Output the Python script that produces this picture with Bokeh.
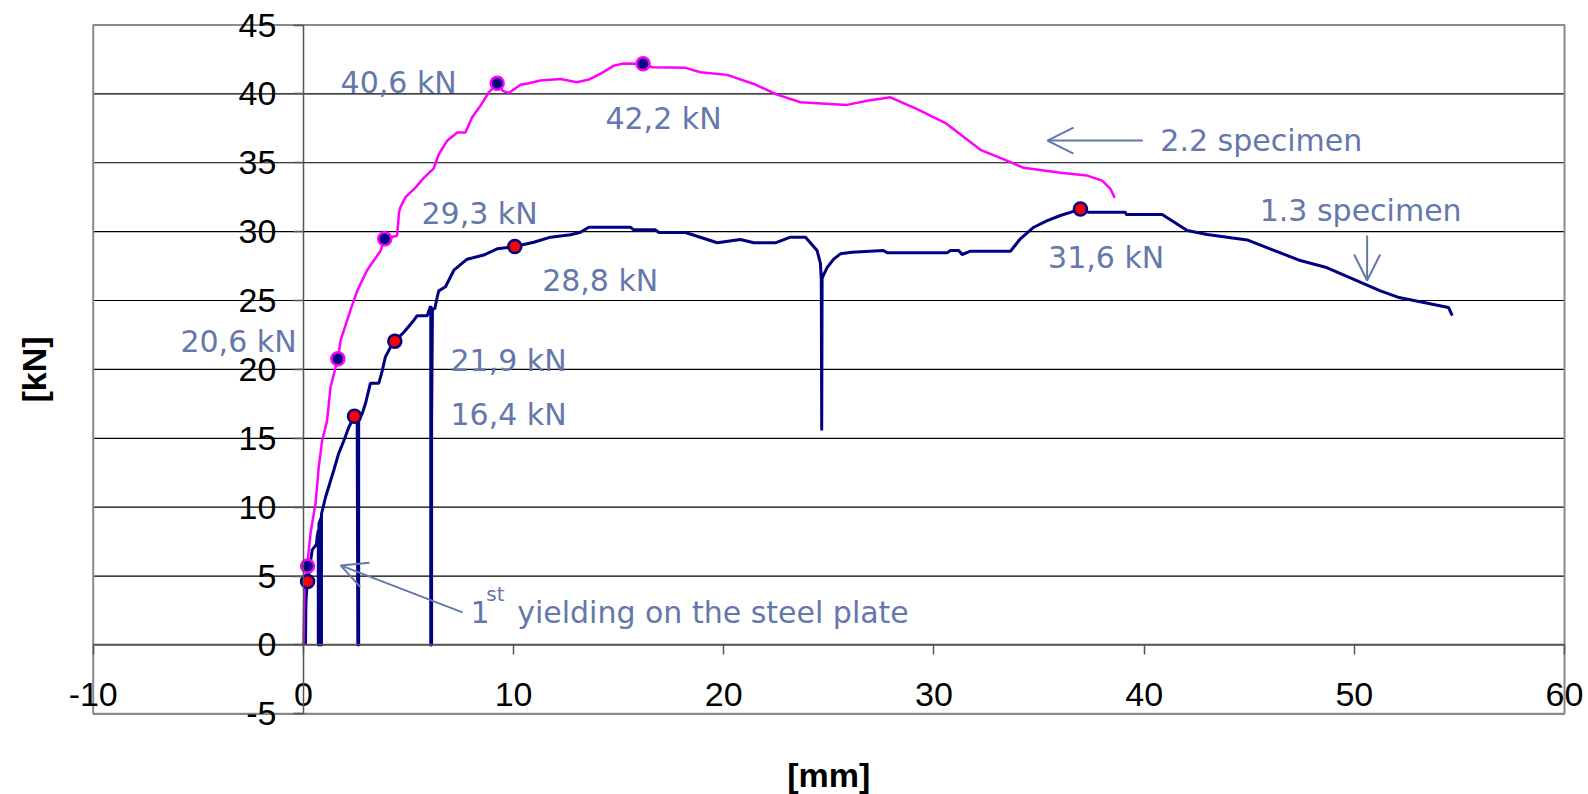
from bokeh.plotting import figure
from bokeh.models import (Range1d, FixedTicker, Label, LabelSet, ColumnDataSource,
                          Arrow, OpenHead)
from bokeh.core.properties import value
from bokeh.embed import file_html
from bokeh.resources import INLINE

# ---- data ----
x_ticks = [-10, 0, 10, 20, 30, 40, 50, 60]
y_ticks = [-5, 0, 5, 10, 15, 20, 25, 30, 35, 40, 45]

# 2.2 specimen (magenta)
mag_x = [0.00, 0.05, 0.18, 0.34, 0.58, 0.73, 0.89, 1.13, 1.29, 1.64, 1.77, 2.24, 2.56, 3.03,
         3.67, 3.87, 4.46, 4.55, 4.62, 4.86, 5.33, 5.73, 6.20, 6.44, 6.84, 7.32, 7.71, 8.03,
         8.43, 8.82, 9.22, 9.50, 9.77, 10.33, 10.72, 11.28, 12.23, 13.02, 13.58, 14.13, 14.77,
         15.24, 16.16, 16.59, 18.18, 18.89, 20.16, 21.43, 22.54, 23.65, 25.87, 26.82, 27.93,
         29.20, 30.55, 32.21, 33.24, 34.27, 36.02, 37.29, 38.00, 38.40, 38.60]
mag_y = [0.00, 4.20, 5.77, 8.10, 10.30, 12.90, 14.80, 16.30, 18.70, 20.77, 22.10, 24.30, 25.70,
         27.20, 28.60, 29.48, 29.70, 31.40, 31.80, 32.50, 33.20, 33.90, 34.60, 35.60, 36.60,
         37.20, 37.20, 38.30, 39.15, 40.10, 40.77, 40.20, 40.07, 40.67, 40.77, 40.97, 41.08,
         40.84, 41.04, 41.45, 42.05, 42.20, 42.18, 41.93, 41.89, 41.57, 41.38, 40.72, 39.95,
         39.39, 39.20, 39.50, 39.75, 38.90, 37.88, 35.94, 35.30, 34.63, 34.27, 34.07, 33.70,
         33.10, 32.45]

# 1.3 specimen (navy)
nav_x = [0.10, 0.12, 0.18, 0.28, 0.42, 0.62, 0.66, 0.71, 0.71, 0.74, 0.74, 0.83, 0.83, 0.86,
         0.86, 1.05, 1.29, 1.45, 1.68, 1.92, 2.16, 2.43, 2.56, 2.59, 2.63, 2.63, 2.80, 2.95,
         3.19, 3.59, 3.75, 3.90, 4.14, 4.35, 4.78, 5.25, 5.41, 5.89, 6.03, 6.06, 6.06, 6.10,
         6.10, 6.14, 6.25, 6.36, 6.44, 6.76, 7.16, 7.79, 8.58, 9.22, 10.06, 10.96, 11.76,
         12.71, 13.18, 13.58, 15.56, 15.72, 16.75, 16.91, 18.18, 19.69, 20.79, 21.43, 22.46,
         23.17, 23.89, 24.44, 24.60, 24.64, 24.66, 24.68, 24.73, 24.92, 25.23, 25.55, 26.10,
         27.60, 27.77, 30.63, 30.78, 31.18, 31.34, 31.74, 33.64, 34.11, 34.75, 35.39, 36.02,
         36.49, 36.97, 37.36, 39.11, 39.15, 40.86, 42.05, 43.00, 44.90, 47.43, 48.63, 51.24,
         52.07, 54.48, 54.66]
nav_y = [0.00, 3.00, 4.60, 5.40, 6.90, 7.30, 7.90, 8.30, 0.00, 0.00, 8.80, 9.20, 0.00, 0.00,
         9.50, 10.70, 11.90, 12.70, 13.90, 14.80, 15.80, 16.60, 16.40, 0.00, 0.00, 16.30, 16.80,
         17.50, 19.00, 19.00, 19.90, 20.90, 21.60, 22.05, 22.70, 23.55, 23.90, 23.90, 24.50,
         24.60, 0.00, 0.00, 16.20, 24.40, 24.40, 25.20, 25.70, 26.00, 27.20, 28.00, 28.30,
         28.75, 28.92, 29.23, 29.60, 29.77, 29.96, 30.32, 30.32, 30.13, 30.13, 29.94, 29.94,
         29.19, 29.43, 29.19, 29.19, 29.60, 29.60, 28.63, 27.70, 26.50, 15.57, 26.60, 26.80,
         27.40, 28.00, 28.39, 28.50, 28.63, 28.46, 28.46, 28.63, 28.63, 28.34, 28.58, 28.58,
         29.48, 30.32, 30.80, 31.17, 31.40, 31.65, 31.40, 31.40, 31.24, 31.24, 30.08, 29.79,
         29.40, 27.90, 27.42, 25.70, 25.24, 24.50, 23.90]

# marked points
mag_mx = [0.20, 1.64, 3.87, 9.22, 16.16]
mag_my = [5.72, 20.77, 29.48, 40.77, 42.18]
nav_mx = [0.20, 2.43, 4.35, 10.06, 36.97]
nav_my = [4.61, 16.60, 22.05, 28.92, 31.65]

# annotation texts
ann_text = ["40,6 kN", "42,2 kN", "29,3 kN", "28,8 kN", "31,6 kN", "20,6 kN", "21,9 kN",
            "16,4 kN", "2.2 specimen", "1.3 specimen"]
ann_x = [1.77, 14.37, 5.62, 11.36, 35.43, -5.85, 7.0, 7.0, 40.77, 45.5]
ann_y = [40.09, 37.48, 30.59, 25.67, 27.34, 21.23, 19.92, 16.0, 35.88, 30.8]

TXT = "#6478AC"
NAVY = "#000080"
MAG = "#FF00FF"

W, H = 1588, 794
# plot-area (x -10..60, y -5..45) placed at pixels 92.7..1564 / 24.5..713.3 of the canvas
sx = (1564.0 - 92.7) / (x_ticks[-1] - x_ticks[0])
sy = (713.3 - 24.5) / (y_ticks[-1] - y_ticks[0])
xr = Range1d(x_ticks[0] - 92.7 / sx, x_ticks[-1] + (W - 1564.0) / sx)
yr = Range1d(y_ticks[0] - (H - 713.3) / sy, y_ticks[-1] + 24.5 / sy)

p = figure(width=W, height=H, x_range=xr, y_range=yr,
           output_backend="svg", toolbar_location=None,
           min_border_left=0, min_border_right=0, min_border_top=0, min_border_bottom=0)

p.outline_line_color = None
p.background_fill_color = "white"
p.border_fill_color = "white"
p.xgrid.visible = False
p.ygrid.visible = False

# horizontal gridlines across the plot area
p.segment(x0=[x_ticks[0]] * len(y_ticks), x1=[x_ticks[-1]] * len(y_ticks),
          y0=y_ticks, y1=y_ticks, line_color="black", line_width=1.2)
# plot-area border
p.quad(left=[x_ticks[0]], right=[x_ticks[-1]], bottom=[y_ticks[0]], top=[y_ticks[-1]],
       fill_color=None, line_color="#8a8a8a", line_width=2)

for ax, ticks in ((p.xaxis, x_ticks), (p.yaxis, y_ticks)):
    ax.ticker = FixedTicker(ticks=ticks)
    ax.major_label_overrides = {t: str(t) for t in ticks}
    ax.fixed_location = 0
    ax.bounds = (ticks[0], ticks[-1])
    ax.axis_line_color = "#555555"
    ax.axis_line_width = 1.5
    ax.major_tick_line_color = "#555555"
    ax.major_tick_line_width = 1.5
    ax.major_tick_out = 10
    ax.major_tick_in = 0
    ax.minor_tick_line_color = None
    ax.major_label_text_font = "Liberation Sans"
    ax.major_label_text_font_size = "34px"
    ax.major_label_text_color = "black"
p.xaxis.major_label_standoff = 28
p.yaxis.major_label_standoff = 17

# curves
p.line(nav_x, nav_y, line_color=NAVY, line_width=3)
p.line(mag_x, mag_y, line_color=MAG, line_width=2.5)
p.scatter(mag_mx, mag_my, size=13, fill_color=NAVY, line_color=MAG, line_width=2.5)
p.scatter(nav_mx, nav_my, size=13, fill_color="red", line_color=NAVY, line_width=2.5)

# annotation labels
src = ColumnDataSource(dict(x=ann_x, y=ann_y, t=ann_text))
p.add_layout(LabelSet(x="x", y="y", text="t", source=src, text_font=value("DejaVu Sans"),
                      text_font_size=value("30px"), text_color=value(TXT),
                      text_baseline=value("alphabetic"), text_align=value("left")))

p.add_layout(Label(x=7.95, y=1.78, y_offset=8, text="1", text_font="DejaVu Sans",
                   text_font_size="30px", text_color=TXT, text_baseline="alphabetic"))
p.add_layout(Label(x=8.70, y=3.47, y_offset=3, text="st", text_font="DejaVu Sans",
                   text_font_size="20px", text_color=TXT, text_baseline="alphabetic"))
p.add_layout(Label(x=10.17, y=1.78, y_offset=8, text="yielding on the steel plate",
                   text_font="DejaVu Sans", text_font_size="30px", text_color=TXT,
                   text_baseline="alphabetic"))

# arrows
for xs, ys, xe, ye in ((39.94, 36.61, 35.40, 36.61),
                       (50.61, 29.72, 50.61, 26.45),
                       (7.57, 2.36, 1.77, 5.77)):
    p.add_layout(Arrow(end=OpenHead(size=26, line_color=TXT, line_width=2),
                       x_start=xs, y_start=ys, x_end=xe, y_end=ye,
                       line_color=TXT, line_width=2))

# axis titles
p.add_layout(Label(x=25, y=-5, y_offset=-61, text="[mm]", text_font="Liberation Sans",
                   text_font_style="bold", text_font_size="34px", text_align="center",
                   text_baseline="middle", text_color="black"))
p.add_layout(Label(x=-10, y=20, x_offset=-59, text="[kN]", text_font="Liberation Sans",
                   text_font_style="bold", text_font_size="34px", text_align="center",
                   text_baseline="middle", angle=1.5707963, text_color="black"))

open("out.html", "w").write(file_html(p, INLINE))
